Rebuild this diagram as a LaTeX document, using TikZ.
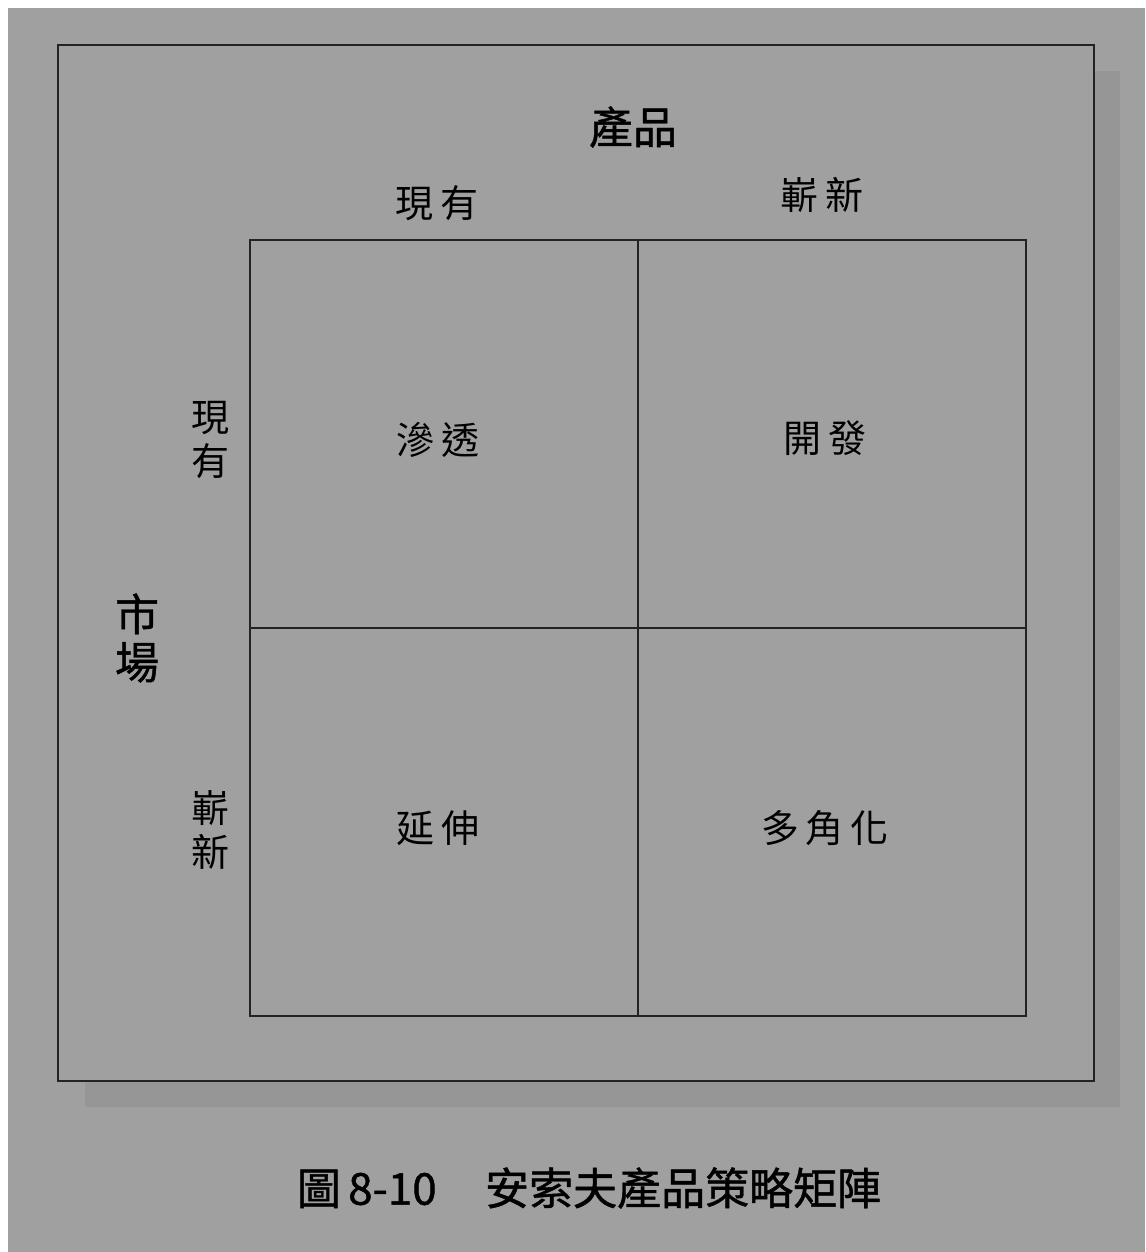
\documentclass[tikz,border=0pt]{standalone}
\usepackage{fontspec}
\setmainfont{Noto Sans CJK TC}
\newfontfamily\cjk{Noto Sans CJK TC}
\newfontfamily\cjkbold[FakeBold=1.0]{Noto Sans CJK TC}
\definecolor{bggray}{RGB}{160,160,160}
\definecolor{shadowgray}{RGB}{150,150,150}
\definecolor{linegray}{RGB}{35,35,35}
\begin{document}
\begin{tikzpicture}[x=1pt,y=-1pt,
  cellbox/.style={draw=linegray,line width=1.7pt,minimum width=388pt,minimum height=388pt,inner sep=0pt,anchor=north west},
  bigtxt/.style={font=\fontsize{44}{48}\selectfont\cjkbold,inner sep=0pt,align=center},
  kaitxt/.style={font=\fontsize{38}{44}\selectfont\cjk,inner sep=0pt,align=center},
  captxt/.style={font=\fontsize{44}{48}\selectfont\cjkbold,inner sep=0pt}]
\useasboundingbox (0,0) rectangle (1145,1252);
\fill[white] (0,0) rectangle (1145,1252);
\fill[bggray] (8,8) rectangle (1145,1252);
\fill[shadowgray] (85,71) rectangle (1120,1107);
\filldraw[fill=bggray,draw=linegray,line width=2.2pt] (58,45) rectangle (1094,1081);
% cells
\node[cellbox] (c11) at (249,239) {};
\node[cellbox] (c12) at (637,239) {};
\node[cellbox] (c21) at (249,627) {};
\node[cellbox] (c22) at (637,627) {};
% headings
\node[bigtxt] (prod) at (633,127) {產品};
\node[bigtxt] (mkt) at (137,638) {市\\場};
\node[kaitxt] (pexist) at (437,203) {現\,有};
\node[kaitxt] (pnew) at (822,195) {嶄\,新};
\node[kaitxt] (mexist) at (210,440) {現\\有};
\node[kaitxt] (mnew) at (210,830) {嶄\\新};
% cell texts
\node[kaitxt] (t11) at (438,440) {滲\,透};
\node[kaitxt] (t12) at (825,438) {開\,發};
\node[kaitxt] (t21) at (438,828) {延\,伸};
\node[kaitxt] (t22) at (825,828) {多\,角\,化};
% caption
\node[captxt] (cap) at (589,1188) {圖\,8-10\hspace{1.1em}安索夫產品策略矩陣};
\end{tikzpicture}
\end{document}
